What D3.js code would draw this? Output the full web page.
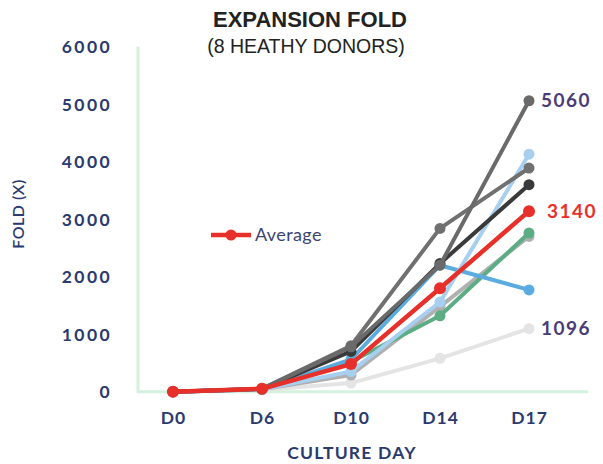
<!DOCTYPE html>
<html><head><meta charset="utf-8">
<script src="https://cdn.jsdelivr.net/npm/d3@7"></script>
<style>body{margin:0;background:#fff}svg{display:block}</style>
</head><body>
<script>
const days = ["D0","D6","D10","D14","D17"];
const yTicks = [0,1000,2000,3000,4000,5000,6000];
const donorA = [0, 50, 780, 2200, 5060];   // dark gray, top
const donorB = [0, 50, 800, 2840, 3890];   // gray
const donorC = [0, 50, 700, 2230, 3600];   // black
const donorD = [0, 40, 350, 1560, 4130];   // light blue
const donorE = [0, 40, 560, 2200, 1770];   // blue
const donorF = [0, 40, 520, 1320, 2760];   // green
const donorG = [0, 40, 290, 1480, 2700];   // silver
const donorH = [0, 30, 150, 580, 1096];    // very light gray
const average = [0, 50, 480, 1800, 3140];
const donorColors = ["#6a6a6a","#707070","#3a3a3a","#a6cff0","#5aabe0","#5cad84","#b0b0b0","#e4e4e4"];
const labels = [{v:5060, text:"5060", color:"#4b3b78"},{v:3140,text:"3140",color:"#e8302a"},{v:1096,text:"1096",color:"#4b3b78"}];

const W=603,H=464;
const svg=d3.select("body").append("svg").attr("width",W).attr("height",H);
const x=d3.scalePoint().domain(days).range([173,529]);
const y=d3.scaleLinear().domain([0,6000]).range([391.7,46.7]);

// axis lines
svg.append("line").attr("x1",138).attr("x2",138).attr("y1",y(6000)).attr("y2",y(0)+1).attr("stroke","#d4f1de").attr("stroke-width",3);
svg.append("line").attr("x1",137).attr("x2",588).attr("y1",y(0)).attr("y2",y(0)).attr("stroke","#d4f1de").attr("stroke-width",3);

const yAxis=svg.append("g").attr("transform","translate(112,0)")
  .call(d3.axisLeft(y).tickValues(yTicks).tickSize(0).tickPadding(0).tickFormat(d3.format("d")));
yAxis.select(".domain").remove();
yAxis.selectAll("text").attr("fill","#2b3a6e").style("font-family","Lato, sans-serif").style("font-weight","700").style("font-size","17.5px").style("letter-spacing","2.4px").attr("dy","0.35em");

const xAxis=svg.append("g").attr("transform","translate(0,418)")
  .call(d3.axisBottom(x).tickSize(0).tickPadding(0));
xAxis.select(".domain").remove();
xAxis.selectAll("text").attr("fill","#2b3a6e").attr("dy","0.35em").style("font-family","Lato, sans-serif").style("font-weight","700").style("font-size","17.5px").style("letter-spacing","1px");

const line=d3.line().x((d,i)=>x(days[i])).y(d=>y(d));
const donors=[donorH,donorG,donorF,donorE,donorD,donorC,donorB,donorA];
const cols=[donorColors[7],donorColors[6],donorColors[5],donorColors[4],donorColors[3],donorColors[2],donorColors[1],donorColors[0]];
const all=donors.concat([average]);
const allCols=cols.concat(["#e8302a"]);
all.forEach((s,k)=>{
  const g=svg.append("g");
  g.append("path").attr("d",line(s)).attr("fill","none").attr("stroke",allCols[k]).attr("stroke-width",k===8?4.5:4).attr("stroke-linejoin","round");
  g.selectAll("circle").data(s).join("circle").attr("cx",(d,i)=>x(days[i])).attr("cy",d=>y(d)).attr("r",k===8?6:5.5).attr("fill",allCols[k]);
});

labels.forEach(l=>{
  svg.append("text").attr("x",l.v===3140?547:541).attr("y",y(l.v)).attr("dy","0.35em").attr("fill",l.color)
   .style("font-family","Lato, sans-serif").style("font-weight","700").style("font-size","19px").style("letter-spacing","1.5px").text(l.text);
});

// legend
svg.append("line").attr("x1",211).attr("x2",251).attr("y1",235).attr("y2",235).attr("stroke","#e8302a").attr("stroke-width",4.5);
svg.append("circle").attr("cx",231).attr("cy",235).attr("r",5.5).attr("fill","#e8302a");
svg.append("text").attr("x",255).attr("y",235).attr("dy","0.35em").attr("fill","#3d4472").style("font-family","Lato, sans-serif").style("font-size","18px").style("letter-spacing","0.4px").text("Average");

// titles
svg.append("text").attr("x",310).attr("y",27).attr("text-anchor","middle").attr("fill","#222")
  .style("font-family","'Liberation Sans Narrow', 'Liberation Sans', Arial, sans-serif").style("font-weight","700").style("font-size","22px").text("EXPANSION FOLD");
svg.append("text").attr("x",306).attr("y",53).attr("text-anchor","middle").attr("fill","#222")
  .style("font-family","'Liberation Sans', Arial, sans-serif").style("font-size","19.5px").text("(8 HEATHY DONORS)");

svg.append("text").attr("transform","translate(24,214) rotate(-90)").attr("text-anchor","middle").attr("fill","#2b3a6e")
  .style("font-family","Lato, sans-serif").style("font-weight","600").style("font-size","16px").style("letter-spacing","0.5px").text("FOLD (X)");
svg.append("text").attr("x",352).attr("y",459).attr("text-anchor","middle").attr("fill","#2b3a6e")
  .style("font-family","Lato, sans-serif").style("font-weight","700").style("font-size","17.5px").style("letter-spacing","1.2px").text("CULTURE DAY");
</script>
</body></html>
